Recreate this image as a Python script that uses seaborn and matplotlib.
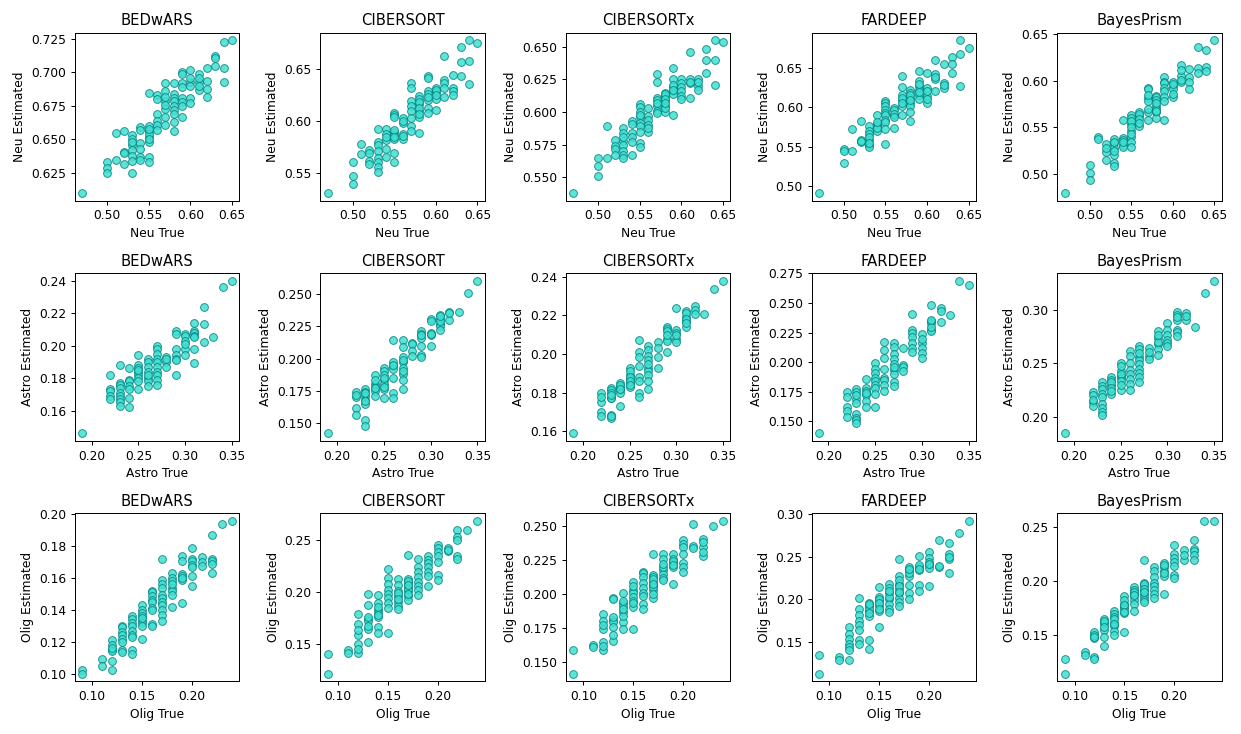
import matplotlib
matplotlib.use("Agg")
import matplotlib.pyplot as plt
from matplotlib.ticker import MultipleLocator
import pandas as pd
import seaborn as sns

methods = ["BEDwARS", "CIBERSORT", "CIBERSORTx", "FARDEEP", "BayesPrism"]
cell_types = ["Neu", "Astro", "Olig"]

# ---------------- Neu ----------------
neu_true = [
    0.47,
    0.50, 0.50, 0.50,
    0.51, 0.51,
    0.52, 0.52, 0.52, 0.52,
    0.53, 0.53, 0.53, 0.53, 0.53, 0.53, 0.53, 0.53,
    0.54, 0.54, 0.54, 0.54, 0.54, 0.54,
    0.55, 0.55, 0.55, 0.55, 0.55, 0.55, 0.55, 0.55, 0.55, 0.55,
    0.56, 0.56, 0.56, 0.56, 0.56, 0.56,
    0.57, 0.57, 0.57, 0.57, 0.57, 0.57, 0.57, 0.57,
    0.58, 0.58, 0.58, 0.58, 0.58, 0.58, 0.58, 0.58, 0.58,
    0.59, 0.59, 0.59, 0.59, 0.59, 0.59, 0.59, 0.59,
    0.60, 0.60, 0.60, 0.60, 0.60, 0.60,
    0.61, 0.61, 0.61, 0.61, 0.61,
    0.62, 0.62, 0.62, 0.62,
    0.63, 0.63, 0.63,
    0.64, 0.64, 0.64,
    0.65,
]
neu_bedwars = [
    0.610,
    0.633, 0.629, 0.625,
    0.655, 0.635,
    0.656, 0.641, 0.640, 0.632,
    0.653, 0.650, 0.646, 0.642, 0.638, 0.634, 0.625, 0.648,
    0.659, 0.657, 0.647, 0.643, 0.637, 0.635,
    0.685, 0.660, 0.656, 0.652, 0.648, 0.637, 0.633, 0.654, 0.658, 0.650,
    0.683, 0.680, 0.669, 0.664, 0.661, 0.657,
    0.692, 0.686, 0.679, 0.673, 0.667, 0.661, 0.676, 0.682,
    0.692, 0.684, 0.681, 0.679, 0.675, 0.672, 0.669, 0.663, 0.656,
    0.700, 0.699, 0.692, 0.689, 0.681, 0.678, 0.675, 0.667,
    0.702, 0.693, 0.690, 0.681, 0.677, 0.696,
    0.699, 0.693, 0.687, 0.696, 0.690,
    0.703, 0.694, 0.688, 0.682,
    0.712, 0.705, 0.711,
    0.723, 0.703, 0.693,
    0.724,
]
neu_cibersort = [
    0.531,
    0.561, 0.547, 0.540,
    0.578, 0.569,
    0.572, 0.562, 0.559, 0.570,
    0.593, 0.580, 0.577, 0.571, 0.565, 0.561, 0.556, 0.551,
    0.593, 0.588, 0.582, 0.573, 0.566, 0.585,
    0.608, 0.606, 0.590, 0.587, 0.583, 0.570, 0.561, 0.604, 0.592, 0.585,
    0.603, 0.598, 0.588, 0.583, 0.600, 0.586,
    0.637, 0.632, 0.620, 0.615, 0.610, 0.603, 0.596, 0.591,
    0.624, 0.622, 0.617, 0.610, 0.604, 0.589, 0.619, 0.613, 0.607,
    0.644, 0.642, 0.629, 0.626, 0.621, 0.613, 0.608, 0.623,
    0.632, 0.628, 0.622, 0.611, 0.630, 0.625,
    0.663, 0.640, 0.637, 0.632, 0.623,
    0.645, 0.632, 0.629, 0.625,
    0.672, 0.657, 0.644,
    0.678, 0.658, 0.636,
    0.675,
]
neu_cibersortx = [
    0.538,
    0.565, 0.559, 0.551,
    0.589, 0.565,
    0.579, 0.574, 0.572, 0.567,
    0.588, 0.584, 0.578, 0.575, 0.570, 0.567, 0.565, 0.581,
    0.593, 0.591, 0.584, 0.581, 0.577, 0.567,
    0.606, 0.604, 0.600, 0.596, 0.592, 0.589, 0.585, 0.576, 0.573, 0.598,
    0.603, 0.597, 0.594, 0.590, 0.585, 0.588,
    0.629, 0.623, 0.611, 0.609, 0.605, 0.601, 0.599, 0.607,
    0.615, 0.612, 0.609, 0.605, 0.600, 0.614, 0.610, 0.603, 0.607,
    0.634, 0.625, 0.619, 0.616, 0.614, 0.598, 0.621, 0.617,
    0.625, 0.622, 0.619, 0.616, 0.612, 0.610,
    0.646, 0.625, 0.622, 0.611, 0.623,
    0.625, 0.620, 0.617, 0.623,
    0.648, 0.640, 0.630,
    0.655, 0.640, 0.621,
    0.654,
]
neu_fardeep = [
    0.491,
    0.547, 0.545, 0.529,
    0.572, 0.545,
    0.583, 0.558, 0.556, 0.557,
    0.576, 0.570, 0.566, 0.558, 0.552, 0.549, 0.562, 0.554,
    0.590, 0.579, 0.576, 0.570, 0.574, 0.581,
    0.608, 0.605, 0.601, 0.597, 0.593, 0.590, 0.584, 0.581, 0.572, 0.553,
    0.599, 0.590, 0.574, 0.597, 0.592, 0.588,
    0.640, 0.626, 0.616, 0.609, 0.601, 0.590, 0.612, 0.605,
    0.622, 0.618, 0.612, 0.606, 0.601, 0.594, 0.583, 0.615, 0.609,
    0.646, 0.633, 0.627, 0.622, 0.616, 0.610, 0.630, 0.619,
    0.643, 0.624, 0.614, 0.606, 0.620, 0.611,
    0.660, 0.642, 0.636, 0.621, 0.639,
    0.655, 0.631, 0.624, 0.628,
    0.664, 0.655, 0.643,
    0.685, 0.668, 0.627,
    0.675,
]
neu_bayesprism = [
    0.480,
    0.510, 0.501, 0.494,
    0.540, 0.538,
    0.532, 0.524, 0.515, 0.528,
    0.538, 0.533, 0.528, 0.521, 0.512, 0.509, 0.535, 0.525,
    0.558, 0.539, 0.537, 0.531, 0.529, 0.534,
    0.563, 0.560, 0.554, 0.546, 0.540, 0.535, 0.529, 0.557, 0.550, 0.543,
    0.566, 0.562, 0.552, 0.564, 0.559, 0.555,
    0.592, 0.591, 0.581, 0.566, 0.558, 0.578, 0.585, 0.570,
    0.584, 0.582, 0.579, 0.573, 0.570, 0.566, 0.560, 0.576, 0.568,
    0.604, 0.599, 0.597, 0.592, 0.589, 0.582, 0.578, 0.558,
    0.598, 0.594, 0.591, 0.582, 0.596, 0.586,
    0.617, 0.605, 0.598, 0.611, 0.601,
    0.612, 0.604, 0.599, 0.591,
    0.636, 0.613, 0.608,
    0.633, 0.615, 0.610,
    0.643,
]

# ---------------- Astro ----------------
astro_true = [
    0.19,
    0.22, 0.22, 0.22, 0.22, 0.22,
    0.23, 0.23, 0.23, 0.23, 0.23, 0.23, 0.23, 0.23, 0.23,
    0.24, 0.24, 0.24, 0.24, 0.24, 0.24, 0.24,
    0.25, 0.25, 0.25, 0.25, 0.25, 0.25, 0.25, 0.25, 0.25,
    0.26, 0.26, 0.26, 0.26, 0.26, 0.26, 0.26, 0.26,
    0.27, 0.27, 0.27, 0.27, 0.27, 0.27, 0.27, 0.27, 0.27, 0.27,
    0.28, 0.28, 0.28, 0.28,
    0.29, 0.29, 0.29, 0.29, 0.29, 0.29, 0.29,
    0.30, 0.30, 0.30, 0.30, 0.30, 0.30,
    0.31, 0.31, 0.31, 0.31, 0.31, 0.31, 0.31,
    0.32, 0.32, 0.32,
    0.33,
    0.34,
    0.35,
]
astro_bedwars = [
    0.146,
    0.182, 0.173, 0.172, 0.169, 0.167,
    0.188, 0.177, 0.176, 0.174, 0.171, 0.169, 0.167, 0.165, 0.163,
    0.186, 0.179, 0.178, 0.175, 0.173, 0.168, 0.162,
    0.194, 0.188, 0.186, 0.184, 0.182, 0.180, 0.178, 0.173, 0.185,
    0.192, 0.190, 0.187, 0.184, 0.180, 0.178, 0.175, 0.182,
    0.200, 0.198, 0.195, 0.192, 0.190, 0.187, 0.184, 0.182, 0.179, 0.176,
    0.193, 0.190, 0.187, 0.192,
    0.209, 0.207, 0.198, 0.194, 0.192, 0.191, 0.182,
    0.207, 0.206, 0.203, 0.198, 0.194, 0.201,
    0.214, 0.209, 0.208, 0.206, 0.205, 0.198, 0.189,
    0.224, 0.213, 0.202,
    0.205,
    0.236,
    0.240,
]
astro_cibersort = [
    0.142,
    0.174, 0.170, 0.162, 0.156, 0.172,
    0.176, 0.174, 0.171, 0.168, 0.165, 0.152, 0.148, 0.173, 0.167,
    0.187, 0.180, 0.178, 0.175, 0.171, 0.177, 0.183,
    0.193, 0.190, 0.187, 0.183, 0.180, 0.176, 0.169, 0.185, 0.178,
    0.214, 0.197, 0.194, 0.192, 0.185, 0.173, 0.169, 0.195,
    0.214, 0.209, 0.201, 0.197, 0.193, 0.188, 0.183, 0.176, 0.199, 0.190,
    0.212, 0.211, 0.206, 0.202,
    0.221, 0.219, 0.216, 0.210, 0.203, 0.201, 0.218,
    0.231, 0.220, 0.218, 0.210, 0.229, 0.219,
    0.234, 0.231, 0.227, 0.225, 0.222, 0.229, 0.233,
    0.236, 0.230, 0.235,
    0.236,
    0.251,
    0.2605,
]
astro_cibersortx = [
    0.159,
    0.180, 0.175, 0.170, 0.168, 0.178,
    0.1825, 0.1815, 0.1775, 0.177, 0.1685, 0.167, 0.180, 0.179, 0.168,
    0.185, 0.183, 0.1815, 0.180, 0.173, 0.184, 0.182,
    0.193, 0.189, 0.187, 0.185, 0.183, 0.191, 0.188, 0.186, 0.184,
    0.2075, 0.201, 0.1985, 0.194, 0.188, 0.186, 0.180, 0.178,
    0.204, 0.202, 0.199, 0.197, 0.193, 0.191, 0.189, 0.186, 0.182, 0.195,
    0.206, 0.203, 0.1985, 0.193,
    0.214, 0.213, 0.212, 0.208, 0.2066, 0.201, 0.210,
    0.224, 0.2125, 0.211, 0.208, 0.206, 0.210,
    0.222, 0.219, 0.217, 0.214, 0.221, 0.218, 0.216,
    0.225, 0.223, 0.2205,
    0.2205,
    0.2337,
    0.238,
]
astro_fardeep = [
    0.140,
    0.175, 0.171, 0.162, 0.159, 0.154,
    0.177, 0.175, 0.169, 0.166, 0.156, 0.153, 0.151, 0.149, 0.172,
    0.186, 0.1785, 0.176, 0.172, 0.1675, 0.162, 0.174,
    0.199, 0.194, 0.191, 0.187, 0.184, 0.1805, 0.178, 0.1735, 0.162,
    0.217, 0.210, 0.204, 0.194, 0.187, 0.185, 0.181, 0.176,
    0.216, 0.213, 0.207, 0.203, 0.1985, 0.1935, 0.190, 0.183, 0.1796, 0.196,
    0.212, 0.198, 0.196, 0.193,
    0.2406, 0.2276, 0.2248, 0.221, 0.2165, 0.212, 0.209,
    0.224, 0.2165, 0.212, 0.208, 0.204, 0.220,
    0.248, 0.2345, 0.233, 0.2276, 0.226, 0.230, 0.236,
    0.2456, 0.243, 0.234,
    0.2395,
    0.269,
    0.265,
]
astro_bayesprism = [
    0.1846,
    0.223, 0.220, 0.214, 0.210, 0.216,
    0.232, 0.229, 0.226, 0.221, 0.218, 0.212, 0.208, 0.2045, 0.2015,
    0.237, 0.234, 0.230, 0.221, 0.232, 0.227, 0.224,
    0.250, 0.243, 0.238, 0.236, 0.225, 0.247, 0.240, 0.233, 0.230,
    0.261, 0.257, 0.250, 0.244, 0.240, 0.235, 0.231, 0.225,
    0.266, 0.263, 0.256, 0.253, 0.249, 0.245, 0.241, 0.237, 0.232, 0.259,
    0.264, 0.257, 0.254, 0.260,
    0.280, 0.273, 0.2675, 0.263, 0.258, 0.270, 0.276,
    0.2874, 0.2813, 0.2767, 0.272, 0.269, 0.266,
    0.298, 0.295, 0.2905, 0.281, 0.279, 0.275, 0.293,
    0.2966, 0.2905, 0.294,
    0.284,
    0.315,
    0.327,
]

# ---------------- Olig ----------------
olig_true = [
    0.09, 0.09,
    0.11, 0.11,
    0.12, 0.12, 0.12, 0.12, 0.12, 0.12, 0.12,
    0.13, 0.13, 0.13, 0.13, 0.13, 0.13, 0.13, 0.13,
    0.14, 0.14, 0.14, 0.14, 0.14, 0.14, 0.14, 0.14, 0.14,
    0.15, 0.15, 0.15, 0.15, 0.15, 0.15, 0.15, 0.15, 0.15,
    0.16, 0.16, 0.16, 0.16, 0.16, 0.16, 0.16, 0.16, 0.16,
    0.17, 0.17, 0.17, 0.17, 0.17, 0.17, 0.17, 0.17, 0.17, 0.17, 0.17,
    0.18, 0.18, 0.18, 0.18, 0.18, 0.18, 0.18, 0.18,
    0.19, 0.19, 0.19, 0.19, 0.19, 0.19, 0.19,
    0.20, 0.20, 0.20, 0.20, 0.20, 0.20, 0.20,
    0.21, 0.21, 0.21,
    0.22, 0.22, 0.22, 0.22, 0.22,
    0.23,
    0.24,
]
olig_bedwars = [
    0.102, 0.100,
    0.109, 0.105,
    0.121, 0.118, 0.115, 0.114, 0.108, 0.102, 0.116,
    0.130, 0.129, 0.126, 0.124, 0.122, 0.120, 0.1145, 0.1135,
    0.136, 0.134, 0.132, 0.130, 0.127, 0.124, 0.123, 0.1145, 0.1125,
    0.143, 0.140, 0.138, 0.136, 0.133, 0.132, 0.130, 0.122, 0.135,
    0.152, 0.151, 0.1485, 0.146, 0.145, 0.141, 0.140, 0.131, 0.130,
    0.172, 0.159, 0.156, 0.154, 0.1495, 0.1475, 0.145, 0.143, 0.140, 0.137, 0.133,
    0.163, 0.160, 0.158, 0.154, 0.152, 0.1495, 0.142, 0.156,
    0.174, 0.171, 0.1625, 0.161, 0.159, 0.1445, 0.160,
    0.179, 0.172, 0.171, 0.168, 0.167, 0.161, 0.155,
    0.173, 0.170, 0.1675,
    0.187, 0.172, 0.171, 0.163, 0.169,
    0.194,
    0.196,
]
olig_cibersort = [
    0.140, 0.121,
    0.144, 0.141,
    0.179, 0.169, 0.158, 0.150, 0.141, 0.163, 0.145,
    0.198, 0.187, 0.174, 0.172, 0.164, 0.152, 0.167, 0.176,
    0.197, 0.189, 0.183, 0.180, 0.176, 0.166, 0.160, 0.185, 0.178,
    0.222, 0.214, 0.208, 0.202, 0.198, 0.194, 0.189, 0.1845, 0.160,
    0.213, 0.207, 0.2005, 0.196, 0.190, 0.186, 0.1835, 0.199, 0.193,
    0.2356, 0.213, 0.209, 0.205, 0.2005, 0.196, 0.1925, 0.211, 0.203, 0.198, 0.207,
    0.232, 0.224, 0.219, 0.215, 0.210, 0.206, 0.202, 0.197,
    0.235, 0.231, 0.228, 0.224, 0.2196, 0.2155, 0.206,
    0.246, 0.243, 0.239, 0.235, 0.229, 0.2165, 0.2117,
    0.243, 0.240, 0.241,
    0.260, 0.253, 0.250, 0.235, 0.232,
    0.2605,
    0.269,
]
olig_cibersortx = [
    0.159, 0.1415,
    0.1625, 0.161,
    0.185, 0.180, 0.174, 0.165, 0.159, 0.177, 0.162,
    0.197, 0.196, 0.181, 0.179, 0.1755, 0.1654, 0.183, 0.170,
    0.2006, 0.1934, 0.191, 0.179, 0.174, 0.187, 0.184, 0.189, 0.195,
    0.209, 0.203, 0.2006, 0.1905, 0.174, 0.206, 0.198, 0.195, 0.193,
    0.2163, 0.2151, 0.2126, 0.2078, 0.2042, 0.2006, 0.1987, 0.1922, 0.1885,
    0.229, 0.2139, 0.2126, 0.209, 0.2066, 0.203, 0.197, 0.211, 0.205, 0.200, 0.2075,
    0.229, 0.2259, 0.2175, 0.2146, 0.2114, 0.2098, 0.220, 0.222,
    0.229, 0.2259, 0.2223, 0.2199, 0.2073, 0.224, 0.221,
    0.2392, 0.2363, 0.2343, 0.229, 0.2223, 0.2199, 0.2163,
    0.2512, 0.2348, 0.2339,
    0.2404, 0.2343, 0.2276, 0.238, 0.231,
    0.250,
    0.2536,
]
olig_fardeep = [
    0.1345, 0.1125,
    0.1314, 0.1287,
    0.1672, 0.1595, 0.153, 0.1468, 0.1441, 0.1402, 0.1287,
    0.2018, 0.1884, 0.1814, 0.1749, 0.1691, 0.1633, 0.1518, 0.1468,
    0.196, 0.1922, 0.1864, 0.1807, 0.1518, 0.1414, 0.189, 0.184, 0.1945,
    0.2145, 0.203, 0.198, 0.1922, 0.1864, 0.1672, 0.2005, 0.195, 0.189,
    0.2184, 0.2134, 0.2076, 0.1999, 0.1941, 0.1884, 0.1845, 0.203, 0.210,
    0.2469, 0.2269, 0.2184, 0.2115, 0.2068, 0.2018, 0.1968, 0.1922, 0.223, 0.215, 0.209,
    0.2376, 0.2338, 0.2276, 0.2172, 0.2076, 0.1999, 0.231, 0.2355,
    0.2507, 0.2376, 0.2338, 0.2172, 0.2095, 0.240, 0.236,
    0.2557, 0.248, 0.2442, 0.2403, 0.2365, 0.2153, 0.242,
    0.270, 0.2376, 0.239,
    0.2661, 0.253, 0.2469, 0.2307, 0.250,
    0.2777,
    0.2923,
]
olig_bayesprism = [
    0.1276, 0.1138,
    0.1343, 0.1307,
    0.1527, 0.1484, 0.1466, 0.1291, 0.1276, 0.150, 0.1475,
    0.1649, 0.1619, 0.1597, 0.1545, 0.1475, 0.1392, 0.163, 0.157,
    0.172, 0.1689, 0.1668, 0.1613, 0.1582, 0.1536, 0.1496, 0.165, 0.1595,
    0.1857, 0.179, 0.1759, 0.1735, 0.1698, 0.1521, 0.182, 0.178, 0.1715,
    0.1943, 0.1919, 0.1888, 0.1857, 0.1827, 0.179, 0.172, 0.190, 0.187,
    0.220, 0.1986, 0.1949, 0.1912, 0.1882, 0.1851, 0.1827, 0.1802, 0.197, 0.193, 0.190,
    0.2127, 0.2096, 0.2041, 0.1986, 0.1949, 0.1912, 0.1882, 0.1842,
    0.217, 0.2127, 0.2096, 0.2047, 0.1882, 0.215, 0.207,
    0.2332, 0.2249, 0.2218, 0.2179, 0.2139, 0.2056, 0.2026,
    0.2292, 0.220, 0.2245,
    0.2378, 0.2301, 0.228, 0.224, 0.2194,
    0.2555,
    0.2561,
]

truth = {"Neu": neu_true, "Astro": astro_true, "Olig": olig_true}
estimates = {
    "Neu": [neu_bedwars, neu_cibersort, neu_cibersortx, neu_fardeep, neu_bayesprism],
    "Astro": [astro_bedwars, astro_cibersort, astro_cibersortx, astro_fardeep, astro_bayesprism],
    "Olig": [olig_bedwars, olig_cibersort, olig_cibersortx, olig_fardeep, olig_bayesprism],
}

# tick spacing on the estimated axis, one per method
y_steps = {
    "Neu": [0.025, 0.05, 0.025, 0.05, 0.05],
    "Astro": [0.02, 0.025, 0.02, 0.025, 0.05],
    "Olig": [0.02, 0.05, 0.025, 0.05, 0.05],
}

DPI = 1241 / 14
fig, axes = plt.subplots(3, 5, figsize=(14, 734 / DPI), dpi=DPI)

for r, cell in enumerate(cell_types):
    for c, method in enumerate(methods):
        ax = axes[r, c]
        df = pd.DataFrame({"true": truth[cell], "est": estimates[cell][c]})
        sns.scatterplot(
            data=df, x="true", y="est", ax=ax,
            color="turquoise", edgecolor="teal", linewidth=0.75,
            s=40, alpha=0.85,
        )
        ax.xaxis.set_major_locator(MultipleLocator(0.05))
        ax.yaxis.set_major_locator(MultipleLocator(y_steps[cell][c]))
        ax.set_title(method, fontsize=12)
        ax.set_xlabel(f"{cell} True", fontsize=10)
        ax.set_ylabel(f"{cell} Estimated", fontsize=10)

plt.tight_layout()
fig.savefig("out.png", dpi=DPI)
